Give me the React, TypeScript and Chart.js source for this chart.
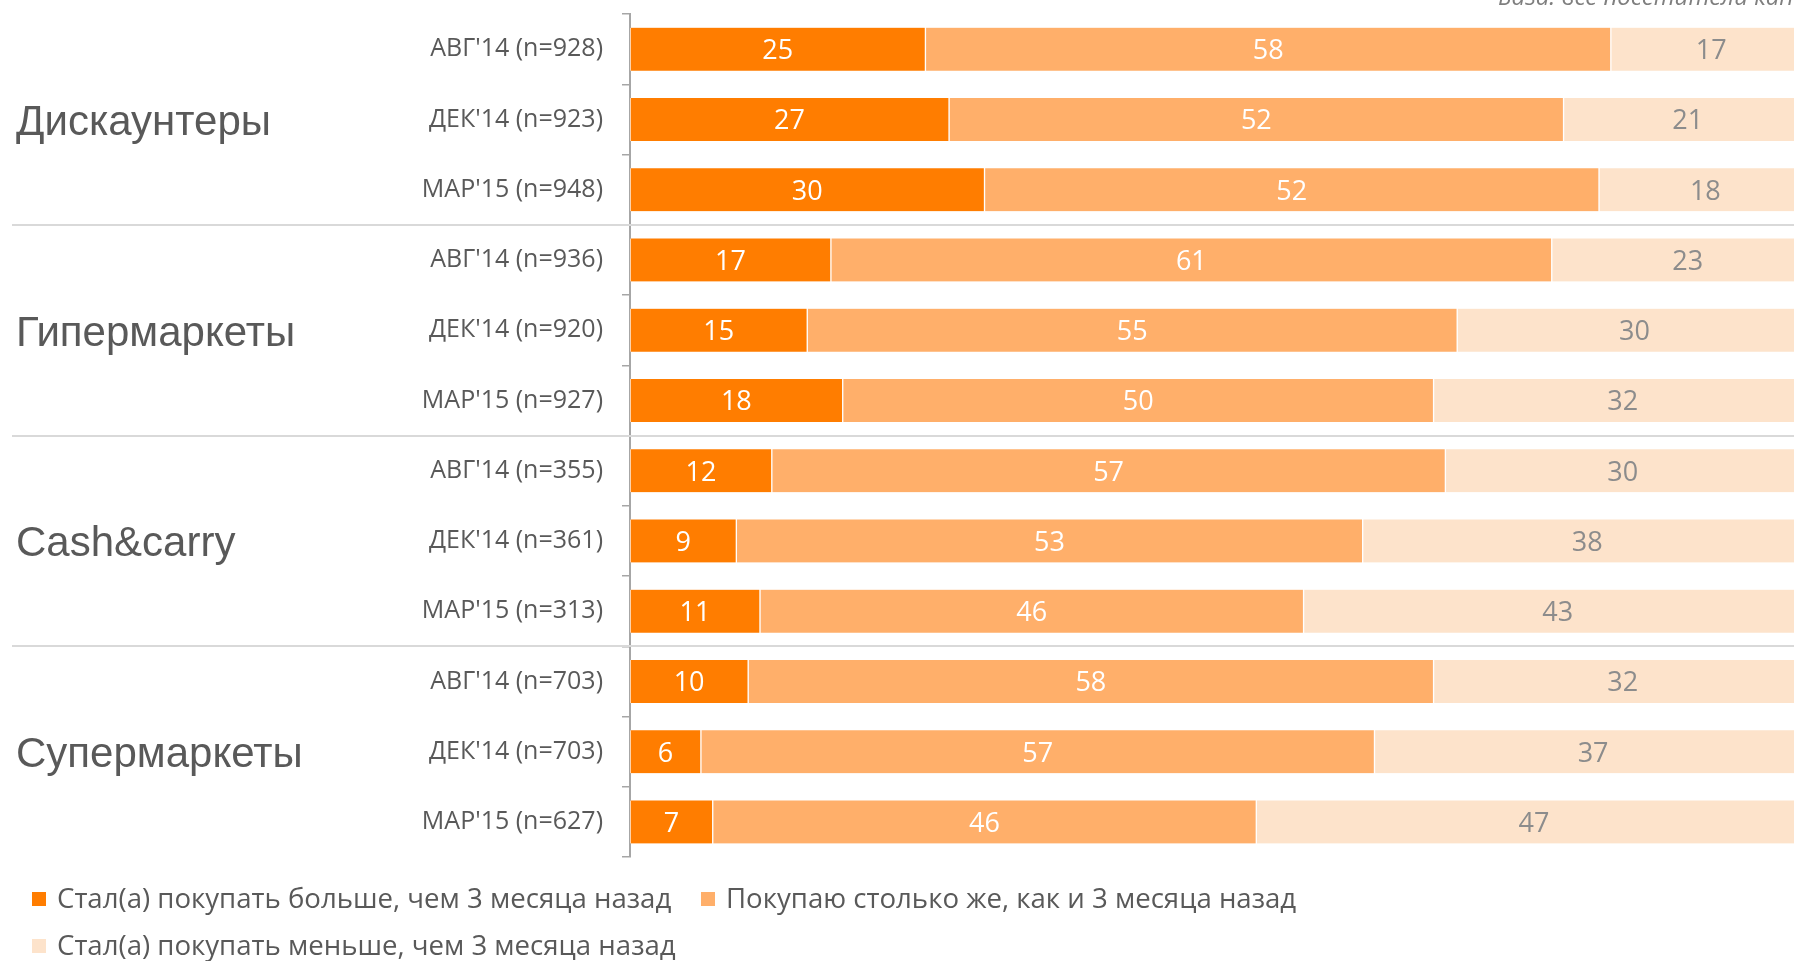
import React, { useEffect, useRef } from "react";
import { Chart, registerables } from "chart.js";

Chart.register(...registerables);

// ---------- data ----------
const categories = [
  "АВГ'14 (n=928)",
  "ДЕК'14 (n=923)",
  "МАР'15 (n=948)",
  "АВГ'14 (n=936)",
  "ДЕК'14 (n=920)",
  "МАР'15 (n=927)",
  "АВГ'14 (n=355)",
  "ДЕК'14 (n=361)",
  "МАР'15 (n=313)",
  "АВГ'14 (n=703)",
  "ДЕК'14 (n=703)",
  "МАР'15 (n=627)",
];

const groups = ["Дискаунтеры", "Гипермаркеты", "Cash&carry", "Супермаркеты"];

const seriesNames = [
  "Стал(а) покупать больше, чем 3 месяца назад",
  "Покупаю столько же, как и 3 месяца назад",
  "Стал(а) покупать меньше, чем 3 месяца назад",
];

const moreValues = [25, 27, 30, 17, 15, 18, 12, 9, 11, 10, 6, 7];
const sameValues = [58, 52, 52, 61, 55, 50, 57, 53, 46, 58, 57, 46];
const lessValues = [17, 21, 18, 23, 30, 32, 30, 38, 43, 32, 37, 47];

const baseNote = "База: все посетители канала";

// ---------- styles ----------
const COLORS = ["#FF7D00", "#FFAF6A", "#FDE3CB"];
const LABEL_COLORS = ["#ffffff", "#ffffff", "#8c8c8c"];
const TEXT_COLOR = "#595959";

const overlayPlugin = {
  id: "overlay",
  beforeDatasetsDraw(chart: any) {
    const { ctx, scales } = chart;
    const y = scales.y;
    ctx.save();
    ctx.strokeStyle = "#d9d9d9";
    ctx.lineWidth = 2;
    for (let g = 1; g < groups.length; g++) {
      const yy = Math.round(y.getPixelForValue(g * 3 - 0.5));
      ctx.beginPath();
      ctx.moveTo(12, yy);
      ctx.lineTo(chart.width, yy);
      ctx.stroke();
    }
    ctx.restore();
  },
  afterDatasetsDraw(chart: any) {
    const { ctx, scales } = chart;
    const x = scales.x;
    const y = scales.y;
    ctx.save();
    // value labels
    ctx.font = "27px 'Open Sans'";
    ctx.textAlign = "center";
    ctx.textBaseline = "alphabetic";
    chart.data.datasets.forEach((ds: any, di: number) => {
      ds.data.forEach((v: number, i: number) => {
        let start = 0;
        for (let k = 0; k < di; k++) start += chart.data.datasets[k].data[i];
        const cx = (x.getPixelForValue(start) + x.getPixelForValue(start + v)) / 2;
        const cy = y.getPixelForValue(i);
        ctx.fillStyle = LABEL_COLORS[di];
        ctx.fillText(String(v), cx, cy + 10);
      });
    });
    // group labels
    ctx.font = "42px 'Liberation Sans'";
    ctx.fillStyle = TEXT_COLOR;
    ctx.textAlign = "left";
    ctx.textBaseline = "middle";
    groups.forEach((g, gi) => {
      const cy = y.getPixelForValue(gi * 3 + 1);
      ctx.fillText(g, 16, cy + 4);
    });
    // note at top right (partly cut off)
    ctx.font = "italic 24px 'Open Sans'";
    ctx.fillStyle = "#7f7f7f";
    ctx.textBaseline = "alphabetic";
    ctx.fillText(baseNote, 1498, 5);
    // legend
    ctx.font = "27.6px 'Open Sans'";
    ctx.textBaseline = "middle";
    const legendPos = [
      { x: 32, y: 899 },
      { x: 701, y: 899 },
      { x: 32, y: 946 },
    ];
    chart.data.datasets.forEach((ds: any, di: number) => {
      const p = legendPos[di];
      ctx.fillStyle = ds.backgroundColor;
      ctx.fillRect(p.x, p.y - 7, 14, 14);
      ctx.fillStyle = TEXT_COLOR;
      ctx.fillText(ds.label, p.x + 25, p.y + 1);
    });
    ctx.restore();
  },
};

export default function App() {
  const canvasRef = useRef<HTMLCanvasElement | null>(null);

  useEffect(() => {
    const canvas = canvasRef.current;
    if (!canvas) return;
    const valueSets = [moreValues, sameValues, lessValues];
    const chart = new Chart(canvas, {
      type: "bar",
      data: {
        labels: categories,
        datasets: seriesNames.map((name, i) => ({
          label: name,
          data: valueSets[i],
          backgroundColor: COLORS[i],
          borderColor: "#ffffff",
          borderWidth: { left: 1, right: 1, top: 0, bottom: 0 },
          borderSkipped: false,
          barThickness: 43,
        })),
      },
      options: {
        indexAxis: "y",
        responsive: false,
        animation: false,
        layout: { padding: { top: 14, bottom: 104, left: 0, right: 0 } },
        plugins: {
          legend: { display: false },
          tooltip: { enabled: false },
          title: { display: false },
        },
        scales: {
          x: {
            stacked: true,
            min: 0,
            max: 98.5,
            display: false,
          },
          y: {
            stacked: true,
            afterFit: (scale: any) => {
              scale.width = 630;
              scale.paddingTop = 0;
              scale.paddingBottom = 0;
            },
            ticks: {
              color: TEXT_COLOR,
              font: { family: "'Open Sans'", size: 25 },
              padding: 19,
            },
            grid: {
              offset: true,
              drawOnChartArea: false,
              drawTicks: true,
              tickLength: 8,
              color: "#a6a6a6",
              lineWidth: 1.5,
            },
            border: { display: true, color: "#a6a6a6", width: 2 },
          },
        },
      },
      plugins: [overlayPlugin],
    } as any);
    return () => chart.destroy();
  }, []);

  return (
    <div style={{ position: "fixed", left: 0, top: 0, width: 1794, height: 961, background: "#fff" }}>
      <canvas ref={canvasRef} width={1794} height={961} style={{ display: "block" }} />
    </div>
  );
}
